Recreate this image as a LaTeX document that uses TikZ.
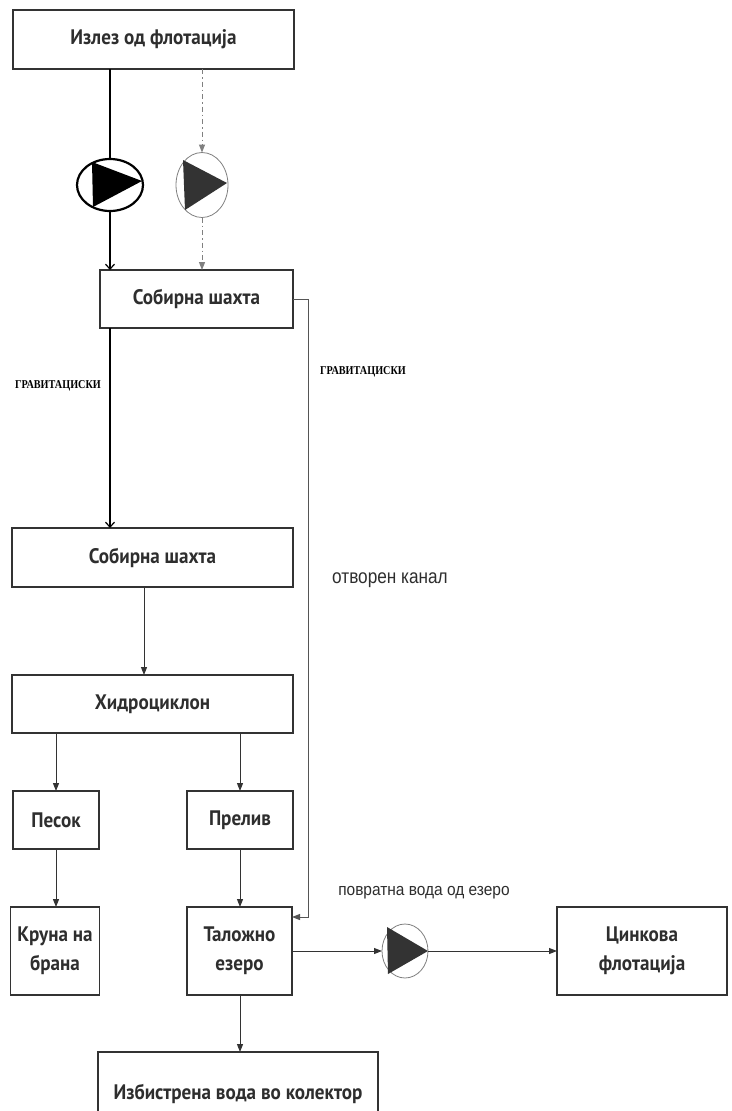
\documentclass[tikz,border=0pt]{standalone}
\usepackage{fontspec}
\usetikzlibrary{arrows.meta,shapes.geometric,calc}
\newfontfamily\boxfont{PT Sans}[FakeStretch=0.91]
\newfontfamily\gravfont{Liberation Serif}[FakeStretch=0.85]
\newfontfamily\lblfont{Liberation Sans}[FakeStretch=0.86]
\newfontfamily\lblfontb{Liberation Sans}[FakeStretch=0.91]
\definecolor{linec}{HTML}{333333}
\definecolor{txtc}{HTML}{2E2E2E}
\definecolor{chanc}{HTML}{555555}
\tikzset{
  box/.style={draw=linec, line width=1.8pt, inner sep=0pt, outer sep=0pt, text=txtc, align=center,
    font=\boxfont\bfseries\fontsize{21}{29}\selectfont},
  conn/.style={draw=linec, line width=1pt, -{Triangle[length=8pt,width=6pt]}},
  openarr/.style={draw=black, line width=1.2pt, -{Straight Barb[length=5pt,width=9pt]}},
  dashconn/.style={draw=gray, line width=1pt, dash pattern=on 5pt off 3pt on 1.5pt off 3pt, -{Triangle[length=8pt,width=6pt]}},
  chan/.style={draw=chanc, line width=1pt, -{Triangle[length=8pt,width=6pt]}},
  grav/.style={font=\gravfont\bfseries\fontsize{12}{14}\selectfont, text=black, inner sep=0pt},
  lbl/.style={font=\lblfont\fontsize{20}{22}\selectfont, text=txtc, inner sep=0pt},
  lblsmall/.style={font=\lblfontb\fontsize{17}{19}\selectfont, text=txtc, inner sep=0pt},
  pump/.style={ellipse, inner sep=0pt, outer sep=0pt, fill=white}
}
\begin{document}
\begin{tikzpicture}[x=1pt,y=-1pt]
\useasboundingbox[fill=white] (0,0) rectangle (731,1111);

% boxes
\node[box, minimum width=281pt, minimum height=59pt] (b1) at (153.5,39.5) {Излез од флотација};
\node[box, minimum width=193pt, minimum height=58pt] (b2) at (196.5,299) {Собирна шахта};
\node[box, minimum width=281pt, minimum height=59pt] (b3) at (152.5,557.5) {Собирна шахта};
\node[box, minimum width=281pt, minimum height=58pt] (hc) at (152.5,704) {Хидроциклон};
\node[box, minimum width=86pt, minimum height=58pt] (pe) at (56,820) {Песок};
\node[box, minimum width=106pt, minimum height=58pt] (pr) at (240,820) {Прелив};
\node[box, minimum width=89pt, minimum height=88pt] (kr) at (55,951) {Круна на\\брана};
\node[box, minimum width=105pt, minimum height=88pt] (tl) at (239.5,951) {Таложно\\езеро};
\node[box, minimum width=170pt, minimum height=88pt] (zn) at (642,951) {Цинкова\\флотација};
\node[box, minimum width=280pt, minimum height=80pt, text depth=0pt] (bt) at (238,1092) {Избистрена вода во колектор};

% pumps
\node[pump, draw=black, line width=2.2pt, minimum width=66pt, minimum height=52pt] (p1) at (110,185) {};
\fill[black] (92,162) -- (142,181) -- (93,207) -- cycle;
\node[pump, draw=gray, line width=0.8pt, minimum width=52pt, minimum height=65pt] (p2) at (202,185) {};
\fill[linec] (183,160) -- (227,183) -- (185,210) -- cycle;
\node[pump, draw=gray, line width=0.8pt, minimum width=46pt, minimum height=54pt] (p3) at (405,951) {};
\fill[linec] (387,927) -- (428,951) -- (388,974) -- cycle;

% connectors
\draw[draw=black, line width=1.2pt] (p1.north |- b1.south) -- (p1.north);
\draw[openarr] (p1.south) -- (p1.south |- b2.north);
\draw[dashconn] (p2.north |- b1.south) -- (p2.north);
\draw[dashconn] (p2.south) -- (p2.south |- b2.north);
\draw[openarr] (p1.south |- b2.south) -- (p1.south |- b3.north);
\draw[conn] ([xshift=-8.5pt]b3.south) -- ([xshift=-8.5pt]hc.north);
\draw[conn] (pe.north |- hc.south) -- (pe.north);
\draw[conn] (pr.north |- hc.south) -- (pr.north);
\draw[conn] (pe.south) -- (kr.north -| pe.south);
\draw[conn] (pr.south) -- (tl.north -| pr.south);
\draw[conn] (tl.south -| pr.south) -- (bt.north -| pr.south);
\draw[chan] (b2.east) -- ([xshift=15pt]b2.east) |- ([yshift=-10pt]tl.north east);
\draw[conn] (tl.east) -- (p3.west);
\draw[conn] (p3.east) -- (zn.west);

% labels
\node[grav] (g1) at (58,386) {ГРАВИТАЦИСКИ};
\node[grav] (g2) at (363,372) {ГРАВИТАЦИСКИ};
\node[lbl] (oc) at (390,580) {отворен канал};
\node[lblsmall] (pv) at (424,893) {повратна вода од езеро};
\end{tikzpicture}
\end{document}
